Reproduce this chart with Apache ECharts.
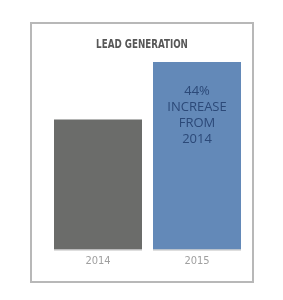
<!DOCTYPE html>
<html>
<head>
<meta charset="utf-8">
<script src="https://cdn.jsdelivr.net/npm/echarts@6/dist/echarts.min.js"></script>
<style>
html, body { margin: 0; padding: 0; background: #fff; }
#chart { width: 283px; height: 300px; }
</style>
</head>
<body>
<div id="chart"></div>
<script>
// data
var years = ['2014', '2015'];
var leads = [100, 144];
var barColors = ['#6b6c6a', '#6389b8'];
var titleText = 'LEAD GENERATION';
var callout = '44%\nINCREASE\nFROM\n2014';

var condensed = '"DejaVu Sans Condensed", sans-serif';

var chart = echarts.init(document.getElementById('chart'));

chart.setOption({
    animation: false,
    graphic: [{
        type: 'rect',
        shape: { x: 31, y: 23, width: 222, height: 259 },
        style: { fill: 'none', stroke: '#b8b8b8', lineWidth: 2 },
        silent: true
    }, {
        // title, squeezed a bit to look like the narrow font of the original
        type: 'text',
        x: 142,
        y: 45,
        scaleX: 0.81,
        silent: true,
        style: {
            text: titleText,
            align: 'center',
            verticalAlign: 'middle',
            fontFamily: condensed,
            fontWeight: 'bold',
            fontSize: 12,
            fill: '#575757'
        }
    }],
    grid: { left: 48.5, right: 36.5, top: 62, bottom: 50 },
    xAxis: {
        type: 'category',
        data: years,
        axisTick: { show: false },
        axisLine: { show: false },
        axisLabel: {
            margin: 6,
            color: '#a0a0a0',
            fontFamily: condensed,
            fontSize: 11
        }
    },
    yAxis: {
        type: 'value',
        min: 0,
        max: 144,
        show: false,
        splitLine: { show: false }
    },
    series: [{
        type: 'bar',
        barWidth: 88,
        data: leads.map(function (v, i) {
            var item = { value: v, itemStyle: { color: barColors[i] } };
            if (i === 1) {
                item.label = {
                    show: true,
                    position: 'insideTop',
                    distance: 21,
                    formatter: callout,
                    color: '#2c4978',
                    fontFamily: 'Open Sans',
                    fontSize: 13,
                    lineHeight: 16,
                    align: 'center'
                };
            }
            return item;
        })
    }, {
        // thin light baseline under each bar
        type: 'bar',
        barWidth: 88,
        barGap: '-100%',
        silent: true,
        data: leads.map(function () { return 0; }),
        itemStyle: { color: 'none', borderColor: '#d4d4d4', borderWidth: 1 },
        z: 3
    }]
});
</script>
</body>
</html>
